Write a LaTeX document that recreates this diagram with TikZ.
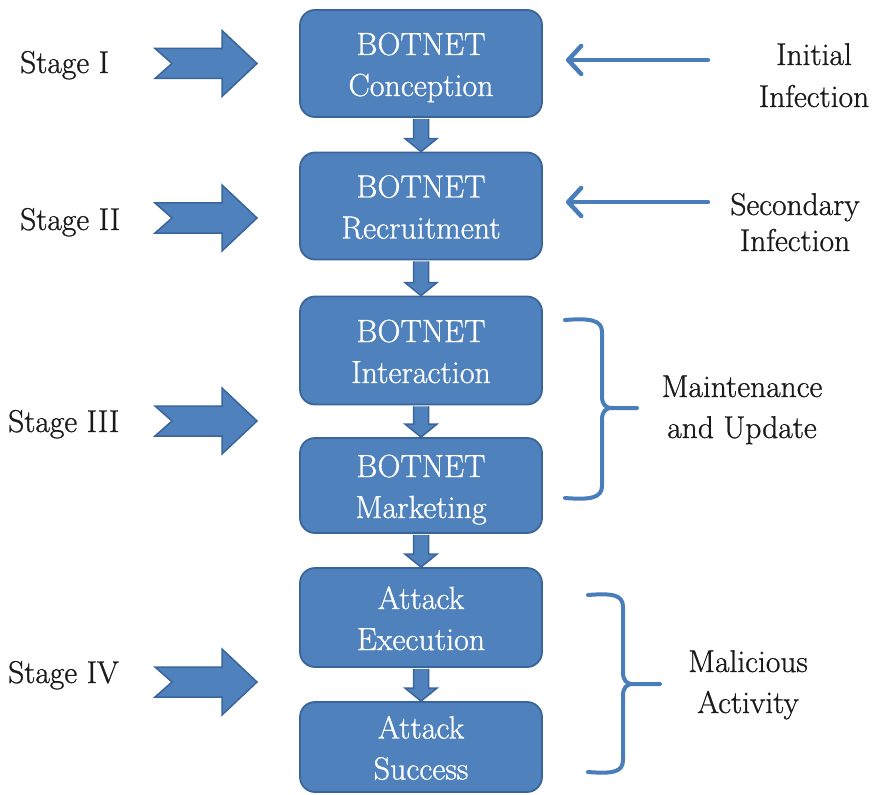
\documentclass[tikz,border=0pt]{standalone}
\usepackage{fontspec}
\newfontfamily\labelfont{Latin Modern Roman}[FakeBold=0.9]
\usetikzlibrary{calc,arrows.meta}

\definecolor{boxfill}{HTML}{4F81BD}
\definecolor{boxline}{HTML}{3A659A}
\definecolor{accent}{HTML}{4A7EBB}
\definecolor{ink}{HTML}{1A1A1A}

\tikzset{
  box/.style={draw=boxline, line width=1.8pt, fill=boxfill,
    rounded corners=15pt, minimum width=242pt, inner sep=0pt},
  boxtext/.style={anchor=base, inner sep=0pt, text=white,
    font=\labelfont\fontsize{32}{40}\selectfont},
  sidetext/.style={anchor=base, inner sep=0pt, text=ink,
    font=\labelfont\fontsize{31.5}{40}\selectfont},
  blockarrow/.style={draw=boxline, line width=1.5pt, fill=boxfill, line join=miter},
  inarrow/.style={draw=accent, line width=4.5pt, line cap=round, line join=round,
    -{Straight Barb[length=13pt,width=28pt,round]}},
  bracestyle/.style={draw=accent, line width=4pt, line cap=round, line join=round},
  stagearrow/.pic={
    \draw[blockarrow] (-51,-15) -- (16,-15) -- (16,-33) -- (51,0) -- (16,33)
      -- (16,15) -- (-51,15) -- (-34,0) -- cycle;}
}

% rounded box with two centred lines of text
\newcommand\flowbox[5]{%
  \node[box, minimum height=#3] (#1) at (#2) {};
  \node[boxtext] (#1-top) at ($(#1.center)+(0,-8.5)$) {#4};
  \node[boxtext] (#1-bot) at ($(#1.center)+(0,32.5)$) {#5};}

% short block arrow from one box down to the next
\newcommand\flowarrow[2]{%
  \draw[blockarrow] ($(#1.south)+(-7.5,1)$) -- ($(#2.north)+(-7.5,-13)$)
    -- ($(#2.north)+(-16,-13)$) -- (#2.north) -- ($(#2.north)+(16,-13)$)
    -- ($(#2.north)+(7.5,-13)$) -- ($(#1.south)+(7.5,1)$);}

\begin{document}
\begin{tikzpicture}[x=1pt, y=-1pt]
\useasboundingbox (0,0) rectangle (882,794);

% central column
\flowbox{b1}{421,63.5}{107pt}{BOTNET}{Conception}
\flowbox{b2}{421,206}{107pt}{BOTNET}{Recruitment}
\flowbox{b3}{421,350.5}{108pt}{BOTNET}{Interaction}
\flowbox{b4}{421,485.5}{95pt}{BOTNET}{Marketing}
\flowbox{b5}{421,617.5}{99pt}{Attack}{Execution}
\flowbox{b6}{421,747}{90pt}{Attack}{Success}

\flowarrow{b1}{b2}
\flowarrow{b2}{b3}
\flowarrow{b3}{b4}
\flowarrow{b4}{b5}
\flowarrow{b5}{b6}

% stage labels and their arrows
\node[sidetext, anchor=base west] (s1) at (20,73) {Stage I};
\node[sidetext, anchor=base west] (s2) at (20,230) {Stage II};
\node[sidetext, anchor=base west] (s3) at (8,432) {Stage III};
\node[sidetext, anchor=base west] (s4) at (8,683) {Stage IV};
\pic at (206,63.5) {stagearrow};
\pic at (206,218) {stagearrow};
\pic at (206,421) {stagearrow};
\pic at (206,682) {stagearrow};

% infection labels with incoming arrows
\node[sidetext] (r1a) at (814,65) {Initial};
\node[sidetext] (r1b) at (814,107) {Infection};
\node[sidetext] (r2a) at (795,215) {Secondary};
\node[sidetext] (r2b) at (795,251) {Infection};
\coordinate (in1) at ($(b1.east)+(165,-3.5)$);
\coordinate (in2) at ($(b2.east)+(165,-4)$);
\draw[inarrow, shorten >=23pt] (in1) -- (in1 -| b1.east);
\draw[inarrow, shorten >=23pt] (in2) -- (in2 -| b2.east);

% grouping braces
\draw[bracestyle] (565,320) .. controls (590,318) and (602,320) .. (602,332)
  -- (602,396) .. controls (602,404) and (605,408) .. (612,408) -- (637,408);
\draw[bracestyle] (565,498) .. controls (590,500) and (602,498) .. (602,486)
  -- (602,420) .. controls (602,412) and (605,408) .. (612,408);
\node[sidetext] (g1a) at (742,397) {Maintenance};
\node[sidetext] (g1b) at (742,438) {and Update};

\draw[bracestyle] (588,595) .. controls (613,593) and (623,595) .. (623,607)
  -- (623,672) .. controls (623,680) and (626,684) .. (633,684) -- (660,684);
\draw[bracestyle] (588,772) .. controls (613,774) and (623,772) .. (623,760)
  -- (623,696) .. controls (623,688) and (626,684) .. (633,684);
\node[sidetext] (g2a) at (748,672) {Malicious};
\node[sidetext] (g2b) at (748,713) {Activity};
\end{tikzpicture}
\end{document}
